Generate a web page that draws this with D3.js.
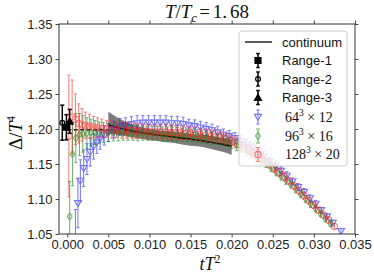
<!DOCTYPE html>
<html><head><meta charset="utf-8">
<script src="https://cdn.jsdelivr.net/npm/d3@7"></script>
<style>body{margin:0;background:#fff}svg{display:block}</style>
</head><body><svg id="c" width="374" height="276"></svg>
<script>
const xTicks=[0,0.005,0.010,0.015,0.020,0.025,0.030,0.035];
const yTicks=[1.05,1.10,1.15,1.20,1.25,1.30,1.35];

const blueX=[0.0010,0.0013,0.0016,0.0020,0.0024,0.0028,0.0032,0.0036,0.0040,0.0045,0.0050,0.0057,0.0064,0.0071,0.0078,0.0085,0.0092,0.0099,0.0106,0.0113,0.0120,0.0127,0.0134,0.0141,0.0148,0.0155,0.0162,0.0169,0.0176,0.0183,0.0190,0.0197,0.0204,0.0211,0.0218,0.0225,0.0232,0.0239,0.0246,0.0253,0.0260,0.0267,0.0274,0.0281,0.0288,0.0295,0.0302,0.0309,0.0316,0.0323,0.0333];
const blueY=[1.030,1.094,1.126,1.144,1.157,1.167,1.175,1.181,1.186,1.191,1.195,1.199,1.203,1.205,1.207,1.208,1.209,1.209,1.209,1.209,1.209,1.208,1.208,1.207,1.205,1.204,1.202,1.200,1.198,1.195,1.192,1.190,1.187,1.183,1.178,1.173,1.167,1.161,1.154,1.147,1.140,1.133,1.125,1.117,1.110,1.101,1.093,1.084,1.075,1.066,1.054];
const blueE=[0.055,0.035,0.030,0.026,0.022,0.020,0.018,0.016,0.015,0.014,0.013,0.012,0.012,0.011,0.011,0.011,0.010,0.010,0.010,0.010,0.010,0.010,0.010,0.010,0.009,0.009,0.009,0.009,0.009,0.009,0.008,0.008,0.008,0.008,0.007,0.007,0.007,0.007,0.006,0.006,0.006,0.006,0.005,0.005,0.005,0.005,0.005,0.004,0.004,0.004,0.004];

const greenX=[0.0003,0.00065,0.00105,0.0015,0.0019,0.0024,0.0029,0.0034,0.0039,0.0044,0.0050,0.0056,0.0062,0.0068,0.0074,0.0080,0.0086,0.0092,0.0098,0.0104,0.0110,0.0116,0.0122,0.0128,0.0134,0.0140,0.0146,0.0152,0.0158,0.0164,0.0170,0.0176,0.0182,0.0188,0.0194,0.0200,0.0206,0.0212,0.0218,0.0224,0.0230,0.0236,0.0242,0.0248,0.0254,0.0260,0.0266,0.0272,0.0278,0.0284,0.0290,0.0296,0.0302,0.0308,0.0314,0.0320];
const greenY=[1.075,1.164,1.187,1.192,1.193,1.194,1.195,1.195,1.195,1.195,1.195,1.195,1.195,1.195,1.195,1.195,1.194,1.194,1.194,1.194,1.194,1.193,1.193,1.193,1.192,1.192,1.191,1.191,1.190,1.189,1.188,1.187,1.186,1.185,1.183,1.180,1.177,1.174,1.170,1.166,1.161,1.156,1.151,1.145,1.139,1.133,1.127,1.121,1.114,1.107,1.100,1.093,1.086,1.079,1.072,1.065];
const greenE=[0.050,0.045,0.035,0.030,0.026,0.022,0.019,0.017,0.015,0.014,0.013,0.012,0.012,0.011,0.011,0.011,0.011,0.010,0.010,0.010,0.010,0.010,0.010,0.010,0.010,0.009,0.009,0.009,0.009,0.009,0.009,0.009,0.008,0.008,0.008,0.008,0.008,0.007,0.007,0.007,0.007,0.007,0.006,0.006,0.006,0.006,0.006,0.005,0.005,0.005,0.005,0.005,0.004,0.004,0.004,0.004];

const redX=[0.0002,0.0006,0.0010,0.0014,0.0018,0.0022,0.0027,0.0032,0.0037,0.0042,0.0048,0.0054,0.0060,0.0066,0.0072,0.0078,0.0084,0.0090,0.0096,0.0102,0.0108,0.0114,0.0120,0.0126,0.0132,0.0138,0.0144,0.0150,0.0156,0.0162,0.0168,0.0174,0.0180,0.0186,0.0192,0.0198,0.0204,0.0210,0.0216,0.0222,0.0228,0.0234,0.0240,0.0246,0.0252,0.0258,0.0264,0.0270,0.0276,0.0282,0.0288,0.0294,0.0300,0.0306,0.0312,0.0318,0.0325];
const redY=[1.190,1.217,1.214,1.208,1.206,1.205,1.204,1.203,1.202,1.201,1.200,1.199,1.199,1.198,1.198,1.198,1.197,1.197,1.197,1.196,1.196,1.196,1.196,1.195,1.195,1.195,1.194,1.194,1.193,1.192,1.191,1.190,1.189,1.188,1.186,1.184,1.181,1.178,1.174,1.170,1.166,1.161,1.156,1.150,1.144,1.138,1.132,1.126,1.119,1.112,1.105,1.098,1.091,1.084,1.077,1.070,1.061];
const redE=[0.087,0.053,0.036,0.028,0.023,0.019,0.017,0.015,0.014,0.013,0.012,0.012,0.011,0.011,0.011,0.011,0.011,0.010,0.010,0.010,0.010,0.010,0.010,0.010,0.010,0.010,0.009,0.009,0.009,0.009,0.009,0.009,0.009,0.008,0.008,0.008,0.008,0.008,0.007,0.007,0.007,0.007,0.006,0.006,0.006,0.006,0.006,0.005,0.005,0.005,0.005,0.005,0.004,0.004,0.004,0.004,0.004];

const rangeNames=["Range-1","Range-2","Range-3"];
const rangeX=[-0.0001,-0.0006,0.0003];
const rangeY=[1.2025,1.209,1.211];
const rangeE=[0.018,0.025,0.017];

const contX=[0.005,0.006,0.007,0.008,0.009,0.010,0.011,0.012,0.013,0.014,0.015,0.016,0.017,0.018,0.019,0.020];
const contY=[1.2057,1.2025,1.1995,1.197,1.195,1.193,1.1915,1.190,1.1885,1.187,1.1855,1.184,1.182,1.180,1.178,1.1755];
const bandLo=[1.194,1.192,1.190,1.188,1.186,1.184,1.183,1.181,1.180,1.178,1.176,1.175,1.173,1.170,1.167,1.163];
const bandHi=[1.2245,1.217,1.211,1.206,1.203,1.200,1.198,1.197,1.196,1.195,1.193,1.192,1.191,1.189,1.187,1.185];
const dashX=[0.0,0.005];
const dashY=[1.199,1.199];

const L=59,R=355,T=24,B=234;
const svg=d3.select("#c");
const xs=d3.scaleLinear().domain([-0.001,0.035]).range([L,R]);
const ys=d3.scaleLinear().domain([1.05,1.35]).range([B,T]);

svg.append("defs").append("clipPath").attr("id","clip").append("rect")
  .attr("x",L).attr("y",T).attr("width",R-L).attr("height",B-T);
const plot=svg.append("g").attr("clip-path","url(#clip)");

// band
const bandData=contX.map((x,i)=>({x,lo:bandLo[i],hi:bandHi[i]}));
plot.append("path").datum(bandData)
  .attr("d",d3.area().x(d=>xs(d.x)).y0(d=>ys(d.lo)).y1(d=>ys(d.hi)).curve(d3.curveMonotoneX))
  .attr("fill","#6e6e6e").attr("fill-opacity",0.9);
plot.append("path").datum(contX.map((x,i)=>[x,contY[i]]))
  .attr("d",d3.line().x(d=>xs(d[0])).y(d=>ys(d[1])).curve(d3.curveMonotoneX))
  .attr("fill","none").attr("stroke","#000").attr("stroke-width",1.6);
plot.append("path").datum(dashX.map((x,i)=>[x,dashY[i]]))
  .attr("d",d3.line().x(d=>xs(d[0])).y(d=>ys(d[1])))
  .attr("fill","none").attr("stroke","#000").attr("stroke-width",1.5).attr("stroke-dasharray","4,2.5");

const triDown="M-3.5,-2.6L3.5,-2.6L0,3.4Z";
const diamond="M0,-3.6L2.4,0L0,3.6L-2.4,0Z";
const circle=d3.symbol(d3.symbolCircle,30)();
const square="M-3,-3L3,-3L3,3L-3,3Z";
const triUp="M-3.5,2.8L3.5,2.8L0,-3.4Z";

function drawSeries(g,X,Y,E,color,shape,op){
  const pts=X.map((x,i)=>({x,y:Y[i],e:E[i]}));
  const grp=g.append("g").attr("opacity",op);
  const eb=grp.selectAll("g.eb").data(pts).join("g");
  eb.append("line").attr("x1",d=>xs(d.x)).attr("x2",d=>xs(d.x))
    .attr("y1",d=>ys(d.y-d.e)).attr("y2",d=>ys(d.y+d.e)).attr("stroke",color).attr("stroke-width",1);
  eb.append("line").attr("x1",d=>xs(d.x)-1.6).attr("x2",d=>xs(d.x)+1.6)
    .attr("y1",d=>ys(d.y+d.e)).attr("y2",d=>ys(d.y+d.e)).attr("stroke",color).attr("stroke-width",1);
  eb.append("line").attr("x1",d=>xs(d.x)-1.6).attr("x2",d=>xs(d.x)+1.6)
    .attr("y1",d=>ys(d.y-d.e)).attr("y2",d=>ys(d.y-d.e)).attr("stroke",color).attr("stroke-width",1);
  grp.selectAll("path.m").data(pts).join("path").attr("class","m")
    .attr("transform",d=>`translate(${xs(d.x)},${ys(d.y)})`)
    .attr("d",shape).attr("fill","none").attr("stroke",color).attr("stroke-width",1.1);
}
drawSeries(plot,blueX,blueY,blueE,"#1a1aff",triDown,0.6);
drawSeries(plot,greenX,greenY,greenE,"#138a13",diamond,0.65);
drawSeries(plot,redX,redY,redE,"#ff2020",circle,0.6);

// range points
const rshapes=[square,circle,triUp];
const rfill=["#000","none","#000"];
rangeX.forEach((x,i)=>{
  const g=plot.append("g");
  const cx=xs(x);
  g.append("line").attr("x1",cx).attr("x2",cx).attr("y1",ys(rangeY[i]-rangeE[i])).attr("y2",ys(rangeY[i]+rangeE[i])).attr("stroke","#000").attr("stroke-width",1.5);
  [rangeY[i]-rangeE[i],rangeY[i]+rangeE[i]].forEach(v=>g.append("line").attr("x1",cx-2).attr("x2",cx+2).attr("y1",ys(v)).attr("y2",ys(v)).attr("stroke","#000").attr("stroke-width",1.5));
  g.append("path").attr("transform",`translate(${cx},${ys(rangeY[i])})`).attr("d",i==1?d3.symbol(d3.symbolCircle,18)():rshapes[i])
    .attr("fill",rfill[i]).attr("stroke","#000").attr("stroke-width",1.2);
});

// axes
const fontSans="'Liberation Sans', Arial, sans-serif";
function styleAxis(g){
  g.select(".domain").remove();
  g.selectAll(".tick line").attr("stroke","#333").attr("stroke-width",0.9);
  g.selectAll(".tick text").attr("font-family",fontSans).attr("font-size",13).attr("fill","#222");
}
svg.append("g").attr("transform",`translate(0,${B})`)
  .call(d3.axisBottom(xs).tickValues(xTicks).tickFormat(d3.format(".3f")).tickSize(3.5).tickPadding(2.5))
  .call(styleAxis);
svg.append("g").attr("transform",`translate(0,${T})`)
  .call(d3.axisTop(xs).tickValues(xTicks).tickFormat("").tickSize(3.5)).call(styleAxis);
svg.append("g").attr("transform",`translate(${L},0)`)
  .call(d3.axisLeft(ys).tickValues(yTicks).tickFormat(d3.format(".2f")).tickSize(3.5).tickPadding(3))
  .call(styleAxis);
svg.append("g").attr("transform",`translate(${R},0)`)
  .call(d3.axisRight(ys).tickValues(yTicks).tickFormat("").tickSize(3.5)).call(styleAxis);
svg.append("rect").attr("x",L).attr("y",T).attr("width",R-L).attr("height",B-T)
  .attr("fill","none").attr("stroke","#333").attr("stroke-width",1);

// titles
const serif="'Liberation Serif','Times New Roman',serif";
const title=svg.append("text").attr("x",207).attr("y",18).attr("text-anchor","middle")
  .attr("font-family",serif).attr("font-size",19).attr("fill","#111");
title.append("tspan").attr("font-style","italic").text("T");
title.append("tspan").text("/");
title.append("tspan").attr("font-style","italic").text("T");
title.append("tspan").attr("font-style","italic").attr("font-size",13).attr("dy",4).text("c");
title.append("tspan").attr("dy",-4).attr("dx",2).text("=");
title.append("tspan").attr("dx",3).text("1.");
title.append("tspan").attr("dx",3).text("68");

const yl=svg.append("text").attr("transform","translate(22,133) rotate(-90)").attr("text-anchor","middle")
  .attr("font-family",serif).attr("font-size",19).attr("fill","#111");
yl.append("tspan").text("Δ/");
yl.append("tspan").attr("font-style","italic").text("T");
yl.append("tspan").attr("font-size",12).attr("dy",-7).text("4");

const xl=svg.append("text").attr("x",210).attr("y",270).attr("text-anchor","middle")
  .attr("font-family",serif).attr("font-size",18).attr("fill","#111");
xl.append("tspan").attr("font-style","italic").text("tT");
xl.append("tspan").attr("font-size",12).attr("dy",-7).text("2");

// legend
const lg=svg.append("g");
lg.append("rect").attr("x",239).attr("y",31).attr("width",108).attr("height",135).attr("rx",3)
  .attr("fill","#fff").attr("fill-opacity",0.8).attr("stroke","#ccc").attr("stroke-width",1);
const rowY=[42,60.5,79,97.5,117,136,154.5];
const hx=258;
lg.append("line").attr("x1",245).attr("x2",272).attr("y1",rowY[0]).attr("y2",rowY[0]).attr("stroke","#333").attr("stroke-width",1.6);
function legErr(y,color,sw,op){
  const g=lg.append("g").attr("opacity",op);
  g.append("line").attr("x1",hx).attr("x2",hx).attr("y1",y-7).attr("y2",y+7).attr("stroke",color).attr("stroke-width",sw);
  g.append("line").attr("x1",hx-1.8).attr("x2",hx+1.8).attr("y1",y-7).attr("y2",y-7).attr("stroke",color).attr("stroke-width",sw);
  g.append("line").attr("x1",hx-1.8).attr("x2",hx+1.8).attr("y1",y+7).attr("y2",y+7).attr("stroke",color).attr("stroke-width",sw);
  return g;
}
rangeNames.forEach((n,i)=>{
  const g=legErr(rowY[i+1],"#000",1.5,1);
  g.append("path").attr("transform",`translate(${hx},${rowY[i+1]})`).attr("d",i==1?d3.symbol(d3.symbolCircle,18)():rshapes[i])
    .attr("fill",rfill[i]).attr("stroke","#000").attr("stroke-width",1.2);
});
[["#1a1aff",triDown,0.6],["#138a13",diamond,0.65],["#ff2020",circle,0.6]].forEach((c,i)=>{
  const g=legErr(rowY[i+4],c[0],1,c[2]);
  g.append("path").attr("transform",`translate(${hx},${rowY[i+4]})`).attr("d",c[1]).attr("fill","none").attr("stroke",c[0]).attr("stroke-width",1.1);
});
const labels=["continuum",...rangeNames];
labels.forEach((t,i)=>lg.append("text").attr("x",282).attr("y",rowY[i]+4.5).attr("font-family",fontSans).attr("font-size",13).attr("fill","#111").text(t));
const latt=[["64","12"],["96","16"],["128","20"]];
latt.forEach((p,i)=>{
  const t=lg.append("text").attr("x",285).attr("y",rowY[i+4]+4.5).attr("font-family",serif).attr("font-size",14).attr("fill","#111");
  t.append("tspan").text(p[0]);
  t.append("tspan").attr("font-size",9.5).attr("dy",-6).text("3");
  t.append("tspan").attr("dy",6).text(" × "+p[1]);
});
</script></body></html>
